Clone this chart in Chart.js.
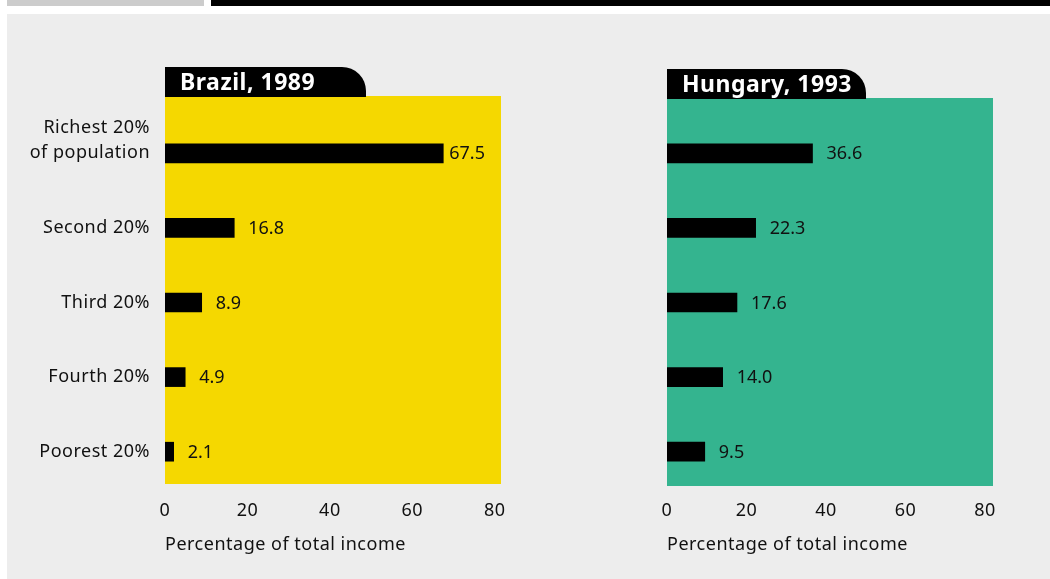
<!DOCTYPE html>
<html>
<head>
<meta charset="utf-8">
<script src="https://cdn.jsdelivr.net/npm/chart.js@4/dist/chart.umd.min.js"></script>
<style>
  html, body { margin: 0; padding: 0; background: #fff; }
  #page { position: relative; width: 1050px; height: 579px; overflow: hidden; }
  .strip { position: absolute; top: 0; height: 6px; }
  #panel { position: absolute; left: 7px; top: 14px; right: 0; bottom: 0; background: #ededed; }
  canvas { position: absolute; top: 0; }
</style>
</head>
<body>
<div id="page">
  <div class="strip" style="left:7px;width:197px;background:#cccccc"></div>
  <div class="strip" style="left:211px;right:0;background:#000"></div>
  <div id="panel"></div>
  <canvas id="brazil" width="530" height="579" style="left:0"></canvas>
  <canvas id="hungary" width="530" height="579" style="left:520px"></canvas>
</div>
<script>
// categories, top to bottom; blank third line keeps "of population" level with its bar
const groups = [['Richest 20%', 'of population', ''], 'Second 20%', 'Third 20%', 'Fourth 20%', 'Poorest 20%'];
const brazilShares = [67.5, 16.8, 8.9, 4.9, 2.1];
const hungaryShares = [36.6, 22.3, 17.6, 14.0, 9.5];
const xTicks = [0, 20, 40, 60, 80];

const FONT = "'Noto Sans', 'Open Sans', sans-serif";

// panel behind the plot area plus the black tab with the title
const panelPlugin = {
  id: 'panel',
  beforeDraw(chart, args, opts) {
    const { ctx, chartArea: a } = chart;
    // slightly looser text, like the original typeface
    ctx.letterSpacing = '0.5px';
    ctx.save();
    ctx.fillStyle = opts.color;
    ctx.fillRect(a.left, a.top + opts.top, a.right - a.left, a.bottom - a.top - opts.top + opts.bottom);
    const tabTop = a.top + opts.top - 29;
    ctx.fillStyle = '#000';
    ctx.beginPath();
    ctx.roundRect(a.left, tabTop, opts.tabWidth, 30, [0, 24, 0, 0]);
    ctx.fill();
    ctx.fillStyle = '#fff';
    ctx.font = 'bold 23px ' + FONT;
    ctx.textBaseline = 'alphabetic';
    ctx.fillText(opts.title, a.left + 15, tabTop + 23);
    ctx.restore();
  }
};

// value labels just past each bar end
const valuePlugin = {
  id: 'values',
  afterDatasetsDraw(chart) {
    const { ctx } = chart;
    const meta = chart.getDatasetMeta(0);
    const data = chart.data.datasets[0].data;
    ctx.save();
    ctx.letterSpacing = '0px';
    ctx.fillStyle = '#111';
    ctx.font = '18px ' + FONT;
    ctx.textBaseline = 'middle';
    meta.data.forEach((bar, i) => {
      const gap = bar.x > chart.chartArea.right - 70 ? 6 : 14;
      ctx.fillText(data[i].toFixed(1), bar.x + gap, bar.y + 1);
    });
    ctx.restore();
  }
};

function makeChart(id, values, max, opts) {
  return new Chart(document.getElementById(id), {
    type: 'bar',
    data: {
      labels: groups,
      datasets: [{ data: values, backgroundColor: '#000', barThickness: 19, borderWidth: 0 }]
    },
    options: {
      responsive: false,
      animation: false,
      indexAxis: 'y',
      layout: { padding: { top: 116, right: opts.padRight, bottom: 0, left: 0 } },
      plugins: {
        legend: { display: false },
        tooltip: { enabled: false },
        panel: { color: opts.color, top: opts.bgTop, bottom: opts.bgBottom, tabWidth: opts.tabWidth, title: opts.title }
      },
      scales: {
        x: {
          min: 0,
          max: max,
          afterBuildTicks: (s) => { s.ticks = xTicks.map(v => ({ value: v })); },
          afterFit: (s) => { s.height = 90; },
          grid: { display: false, drawTicks: false },
          border: { display: false },
          ticks: { padding: 11, color: '#111', font: { family: FONT, size: 18 } },
          title: {
            display: true,
            text: 'Percentage of total income',
            align: 'start',
            color: '#111',
            padding: { top: 0, bottom: 23 },
            font: { family: FONT, size: 18 }
          }
        },
        y: {
          afterFit: (s) => { s.width = opts.yWidth; },
          grid: { display: false, drawTicks: false },
          border: { display: false },
          ticks: {
            display: opts.showLabels,
            autoSkip: false,
            padding: 15,
            color: '#111',
            font: { family: FONT, size: 18, lineHeight: 1.39 }
          }
        }
      }
    },
    plugins: [panelPlugin, valuePlugin]
  });
}

makeChart('brazil', brazilShares, 81.5, {
  yWidth: 165, padRight: 29, color: '#f5d800', bgTop: -20, bgBottom: -5,
  tabWidth: 201, title: 'Brazil, 1989', showLabels: true
});
makeChart('hungary', hungaryShares, 82, {
  yWidth: 147, padRight: 57, color: '#34b48f', bgTop: -18, bgBottom: -3,
  tabWidth: 199, title: 'Hungary, 1993', showLabels: false
});
</script>
</body>
</html>
